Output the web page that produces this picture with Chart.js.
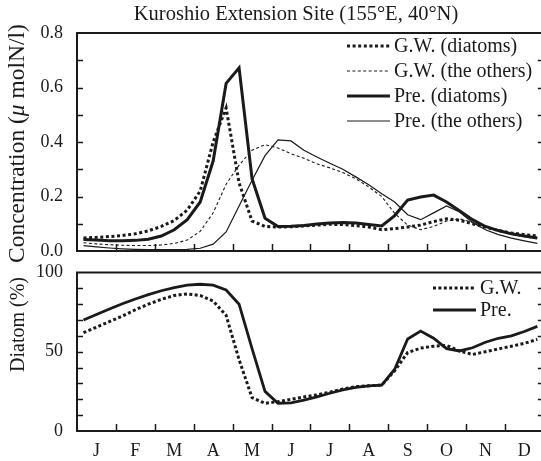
<!DOCTYPE html>
<html><head><meta charset="utf-8">
<script src="https://cdn.jsdelivr.net/npm/chart.js@4.4.0/dist/chart.umd.min.js"></script>
<style>
html,body{margin:0;padding:0;background:#fff;overflow:hidden;width:541px;height:461px;}
canvas{position:absolute;left:0;top:0;}
</style></head><body>
<canvas id="c1" width="548" height="461"></canvas>
<canvas id="c2" width="548" height="461"></canvas>
<script>
// ---- data (36 ten-day points per year) ----
const months = ['J','F','M','A','M','J','J','A','S','O','N','D'];
const concTicks = [0, 0.2, 0.4, 0.6, 0.8];
const pctTicks = [0, 50, 100];
const chartTitle = 'Kuroshio Extension Site (155°E, 40°N)';
const concAxisTitle = [['Concentration (', false], ['μ', true], [' molN/l)', false]];
const pctAxisTitle = [['Diatom (%)', false]];
const concLabels = ['G.W. (diatoms)', 'G.W. (the others)', 'Pre. (diatoms)', 'Pre. (the others)'];
const pctLabels = ['G.W.', 'Pre.'];

const gwDiatoms = [0.048,0.05,0.053,0.057,0.063,0.074,0.09,0.112,0.15,0.22,0.40,0.525,0.25,0.11,0.09,0.088,0.089,0.092,0.095,0.098,0.097,0.093,0.088,0.078,0.082,0.088,0.095,0.108,0.118,0.113,0.1,0.088,0.075,0.066,0.06,0.055];
const gwOthers  = [0.03,0.026,0.023,0.021,0.02,0.02,0.022,0.028,0.04,0.072,0.14,0.245,0.315,0.37,0.39,0.378,0.357,0.34,0.32,0.305,0.288,0.265,0.235,0.2,0.138,0.095,0.078,0.09,0.11,0.118,0.105,0.09,0.075,0.062,0.052,0.045];
const preDiatoms = [0.042,0.04,0.038,0.038,0.039,0.043,0.055,0.078,0.115,0.18,0.33,0.615,0.672,0.265,0.12,0.09,0.091,0.094,0.099,0.103,0.105,0.103,0.097,0.092,0.13,0.187,0.198,0.205,0.18,0.148,0.115,0.09,0.075,0.063,0.055,0.048];
const preOthers = [0.02,0.015,0.011,0.008,0.006,0.005,0.005,0.005,0.006,0.01,0.025,0.07,0.165,0.26,0.35,0.408,0.404,0.37,0.345,0.322,0.3,0.272,0.243,0.21,0.18,0.133,0.115,0.14,0.165,0.143,0.105,0.078,0.06,0.047,0.037,0.028];

const gwPct  = [62,65.5,69,72.5,76.5,80,83,85.5,86.5,85.5,82,73,45,21,17.5,18.5,20,21.5,22.8,24.5,26.5,28,28.5,29,38,49.5,52.3,53.5,54,50.5,48.3,50,51.8,53.5,55.3,57.8];
const prePct = [70,73.5,77,80.3,83.3,86,88.5,90.5,92,92.6,92,89,80,52,25,17.5,17.8,19.5,21.5,23.8,26,27.5,28.5,29,39,58,63,58.5,52,50.5,52.5,56,58.5,60,62.8,66];

// ---- helpers ----
const FONT = '"Liberation Serif", "Times New Roman", serif';
const INK = '#1a1a1a';
const toXY = arr => arr.map((v, i) => ({x: (i + 0.5) / 3, y: v}));

const framePlugin = {
  id: 'frame',
  afterDatasetsDraw(chart, args, o) {
    const {ctx, chartArea: a, scales: {x, y}} = chart;
    ctx.save();
    ctx.strokeStyle = INK;
    ctx.setLineDash([]);
    ctx.lineWidth = 1.5;
    ctx.beginPath();
    for (let v = y.min + o.minorStep; v < y.max - 1e-9; v += o.minorStep) {
      const py = Math.round(y.getPixelForValue(v)) + 0.5;
      ctx.moveTo(a.left, py); ctx.lineTo(a.left + 6, py);
      ctx.moveTo(a.right - 6, py); ctx.lineTo(a.right, py);
    }
    for (let m = 1; m < months.length; m++) {
      const px = Math.round(x.getPixelForValue(m)) + 0.5;
      ctx.moveTo(px, a.bottom); ctx.lineTo(px, a.bottom - 7);
    }
    ctx.stroke();
    ctx.lineWidth = 2;
    ctx.strokeRect(a.left, a.top, a.right - a.left, a.bottom - a.top);
    // legend
    const L = o.legend;
    ctx.font = '20px ' + FONT;
    ctx.fillStyle = INK;
    ctx.textBaseline = 'middle';
    ctx.textAlign = 'left';
    chart.data.datasets.forEach((ds, i) => {
      const ly = L.y + i * L.row;
      ctx.lineWidth = ds.borderWidth;
      ctx.setLineDash(ds.borderDash || []);
      ctx.beginPath();
      ctx.moveTo(L.x, ly); ctx.lineTo(L.x + L.len, ly);
      ctx.stroke();
      ctx.fillText(ds.label, L.x + L.len + 4, ly + 1);
    });
    ctx.setLineDash([]);
    // rotated y-axis title
    const T = o.yTitle;
    ctx.save();
    ctx.translate(T.x, T.y);
    ctx.rotate(-Math.PI / 2);
    ctx.textBaseline = 'alphabetic';
    let cx = 0;
    T.parts.forEach(([txt, it]) => {
      ctx.font = (it ? 'italic ' : '') + T.size + 'px ' + FONT;
      ctx.fillText(txt, cx, 0);
      cx += ctx.measureText(txt).width;
    });
    ctx.restore();
    if (o.title) {
      ctx.font = '20.5px ' + FONT;
      ctx.textAlign = 'center';
      ctx.textBaseline = 'middle';
      ctx.fillText(o.title, o.titleX, o.titleY);
    }
    ctx.restore();
  }
};

const baseDs = {pointRadius: 0, tension: 0, fill: false, borderColor: INK, borderCapStyle: 'butt', borderJoinStyle: 'miter'};

new Chart(document.getElementById('c1'), {
  type: 'line',
  data: {
    datasets: [
      {...baseDs, label: concLabels[0], data: toXY(gwDiatoms), borderWidth: 3, borderDash: [3, 2.6]},
      {...baseDs, label: concLabels[1], data: toXY(gwOthers), borderWidth: 1.1, borderDash: [3, 2.4]},
      {...baseDs, label: concLabels[2], data: toXY(preDiatoms), borderWidth: 3},
      {...baseDs, label: concLabels[3], data: toXY(preOthers), borderWidth: 1.2}
    ]
  },
  options: {
    responsive: false, animation: false, devicePixelRatio: 1,
    layout: {padding: {top: 33, bottom: 210, left: 0, right: 4.2}},
    plugins: {
      legend: {display: false}, tooltip: {enabled: false},
      frame: {minorStep: 0.1, legend: {x: 347, y: 46, row: 25, len: 43},
              title: chartTitle, titleX: 296, titleY: 15,
              yTitle: {parts: concAxisTitle, size: 23.5, x: 24, y: 263}}
    },
    scales: {
      x: {type: 'linear', min: 0, max: 12, display: false},
      y: {
        min: 0, max: 0.8,
        afterFit(s) { s.width = 77; },
        afterBuildTicks(s) { s.ticks = concTicks.map(v => ({value: v})); },
        ticks: {callback: v => Number(v).toFixed(1), font: {family: FONT, size: 18}, color: INK, padding: 14},
        grid: {display: false, drawTicks: false},
        border: {display: false}
      }
    }
  },
  plugins: [framePlugin]
});

new Chart(document.getElementById('c2'), {
  type: 'line',
  data: {
    datasets: [
      {...baseDs, label: pctLabels[0], data: toXY(gwPct), borderWidth: 3, borderDash: [3, 2.4]},
      {...baseDs, label: pctLabels[1], data: toXY(prePct), borderWidth: 2.8}
    ]
  },
  options: {
    responsive: false, animation: false, devicePixelRatio: 1,
    layout: {padding: {top: 272.5, bottom: 0, left: 0, right: 4.2}},
    plugins: {
      legend: {display: false}, tooltip: {enabled: false},
      frame: {minorStep: 10, legend: {x: 433, y: 288, row: 22, len: 43},
              yTitle: {parts: pctAxisTitle, size: 20, x: 24, y: 372}}
    },
    scales: {
      x: {
        type: 'linear', min: 0, max: 12,
        afterFit(s) { s.height = 30; },
        afterBuildTicks(s) { s.ticks = months.map((m, i) => ({value: i + 0.5})); },
        ticks: {callback: (v, i) => months[i], font: {family: FONT, size: 18}, color: INK, padding: 9, autoSkip: false, maxRotation: 0},
        grid: {display: false, drawTicks: false},
        border: {display: false}
      },
      y: {
        min: 0, max: 100,
        afterFit(s) { s.width = 77; },
        afterBuildTicks(s) { s.ticks = pctTicks.map(v => ({value: v})); },
        ticks: {font: {family: FONT, size: 18}, color: INK, padding: 14},
        grid: {display: false, drawTicks: false},
        border: {display: false}
      }
    }
  },
  plugins: [framePlugin]
});
</script>
</body></html>
